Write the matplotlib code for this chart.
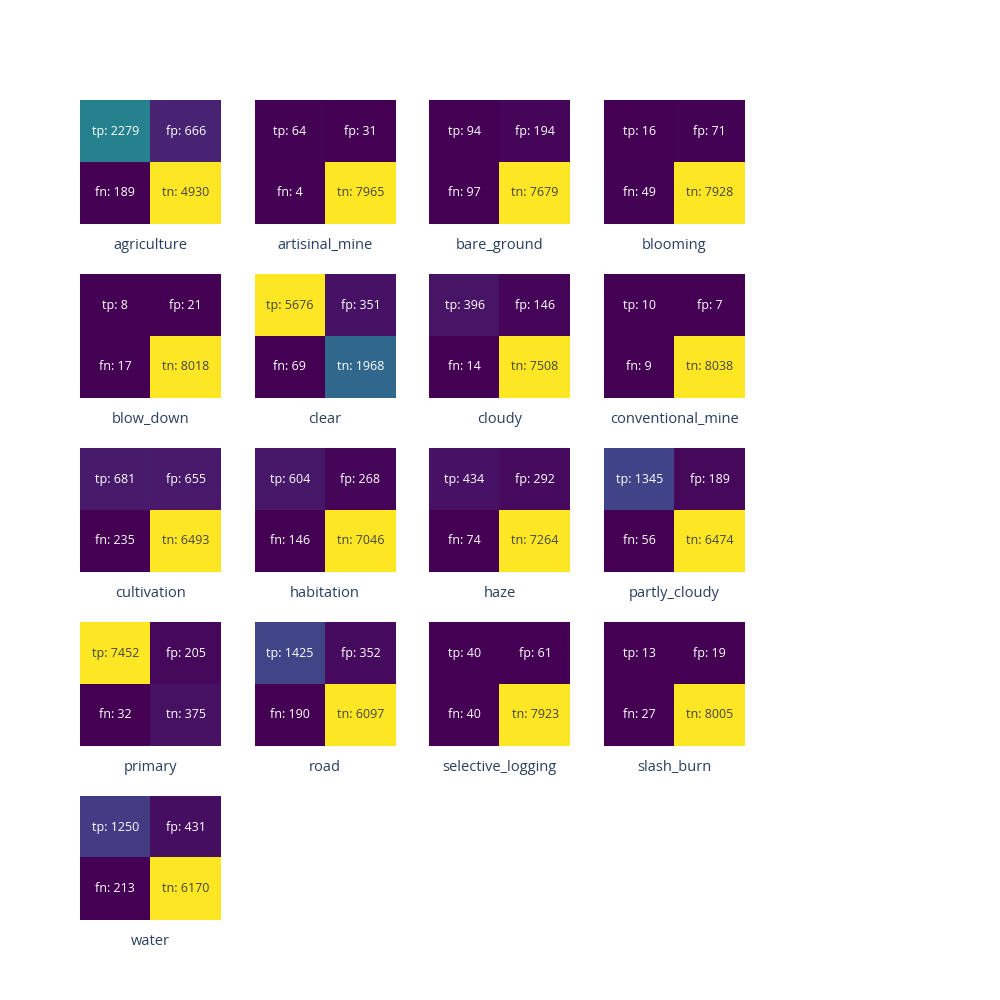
import numpy as np
import matplotlib
matplotlib.use("Agg")
from matplotlib import pyplot as plt

plt.rcParams['font.family'] = ['Open Sans', 'DejaVu Sans']

# etiquetas y valores de cada matriz de confusion: tp, fp, fn, tn
etiquetas = ["agriculture", "artisinal_mine", "bare_ground", "blooming",
             "blow_down", "clear", "cloudy", "conventional_mine",
             "cultivation", "habitation", "haze", "partly_cloudy",
             "primary", "road", "selective_logging", "slash_burn",
             "water"]
tp = [2279, 64, 94, 16, 8, 5676, 396, 10, 681, 604, 434, 1345, 7452, 1425, 40, 13, 1250]
fp = [666, 31, 194, 71, 21, 351, 146, 7, 655, 268, 292, 189, 205, 352, 61, 19, 431]
fn = [189, 4, 97, 49, 17, 69, 14, 9, 235, 146, 74, 56, 32, 190, 40, 27, 213]
tn = [4930, 7965, 7679, 7928, 8018, 1968, 7508, 8038, 6493, 7046, 7264, 6474, 375, 6097, 7923, 8005, 6170]

fig = plt.figure(figsize=(10, 10), dpi=100)
cmap = plt.get_cmap("viridis")

for i, nombre in enumerate(etiquetas):
    fila, col = divmod(i, 4)
    izq = 80 + col * 174.67
    arriba = 100 + fila * 174
    ax = fig.add_axes([izq / 1000, 1 - (arriba + 124) / 1000, 141 / 1000, 124 / 1000])
    m = np.array([[tp[i], fp[i]], [fn[i], tn[i]]])
    ax.imshow(m, cmap=cmap, aspect="auto", vmin=m.min(), vmax=m.max())
    nombres = [["tp", "fp"], ["fn", "tn"]]
    for r in range(2):
        for c in range(2):
            v = (m[r, c] - m.min()) / (m.max() - m.min())
            color = "#444444" if v > 0.6 else "white"
            ax.text(c, r, f"{nombres[r][c]}: {m[r, c]}", ha="center", va="center",
                    fontsize=9, color=color)
    ax.text(0.5, -0.17, nombre, transform=ax.transAxes, ha="center", va="center",
            fontsize=10.5, color="#2a3f5f")
    ax.set_xticks([])
    ax.set_yticks([])
    for s in ax.spines.values():
        s.set_visible(False)

fig.savefig("out.png", dpi=100)
